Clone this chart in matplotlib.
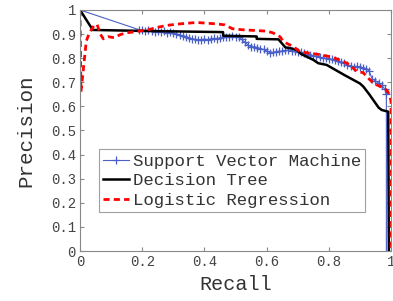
import matplotlib
matplotlib.use("Agg")
import matplotlib.pyplot as plt

# Support Vector Machine
svm_recall = [0.00, 0.19, 0.20, 0.21, 0.22, 0.23, 0.24, 0.25, 0.26, 0.27, 0.28, 0.29, 0.30,
              0.31, 0.32, 0.33, 0.34, 0.35, 0.36, 0.37, 0.38, 0.39, 0.40, 0.41, 0.42, 0.43,
              0.44, 0.45, 0.46, 0.47, 0.48, 0.49, 0.50, 0.51, 0.52, 0.53, 0.54, 0.55, 0.56,
              0.57, 0.58, 0.59, 0.60, 0.61, 0.62, 0.63, 0.64, 0.65, 0.66, 0.67, 0.68, 0.69,
              0.70, 0.71, 0.72, 0.73, 0.74, 0.75, 0.76, 0.77, 0.78, 0.79, 0.80, 0.81, 0.82,
              0.83, 0.84, 0.85, 0.86, 0.87, 0.88, 0.89, 0.90, 0.91, 0.92, 0.93, 0.94, 0.95,
              0.96, 0.97, 0.98, 0.985, 0.985]
svm_precision = [1.000, 0.918, 0.915, 0.912, 0.916, 0.913, 0.910, 0.914, 0.909, 0.912, 0.906,
                 0.909, 0.903, 0.900, 0.897, 0.893, 0.889, 0.884, 0.880, 0.878, 0.876, 0.877,
                 0.879, 0.877, 0.880, 0.882, 0.881, 0.884, 0.886, 0.888, 0.887, 0.890, 0.889,
                 0.886, 0.878, 0.866, 0.855, 0.846, 0.848, 0.844, 0.840, 0.836, 0.830, 0.823,
                 0.824, 0.827, 0.829, 0.828, 0.832, 0.834, 0.831, 0.828, 0.826, 0.824, 0.822,
                 0.819, 0.815, 0.809, 0.807, 0.804, 0.801, 0.799, 0.797, 0.795, 0.793, 0.789,
                 0.784, 0.778, 0.772, 0.768, 0.765, 0.766, 0.763, 0.760, 0.757, 0.745, 0.712,
                 0.706, 0.696, 0.687, 0.672, 0.650, 0.000]

# Decision Tree
dt_recall = [0.0, 0.041, 0.20, 0.46, 0.46, 0.568, 0.568, 0.638, 0.66, 0.68, 0.697, 0.71,
             0.729, 0.75, 0.766, 0.793, 0.85, 0.90, 0.911, 0.93, 0.96, 0.97, 0.991, 0.993]
dt_precision = [1.0, 0.917, 0.913, 0.908, 0.893, 0.890, 0.880, 0.878, 0.845, 0.840, 0.834,
                0.818, 0.806, 0.793, 0.779, 0.772, 0.730, 0.695, 0.682, 0.650, 0.595, 0.585,
                0.578, 0.0]

# Logistic Regression
lr_recall = [0.0, 0.003, 0.008, 0.02, 0.03, 0.045, 0.055, 0.065, 0.075, 0.09, 0.11, 0.13,
             0.15, 0.19, 0.22, 0.25, 0.28, 0.32, 0.375, 0.44, 0.466, 0.49, 0.52, 0.60, 0.62,
             0.643, 0.654, 0.686, 0.707, 0.74, 0.77, 0.804, 0.83, 0.858, 0.868, 0.89, 0.91,
             0.925, 0.94, 0.954, 0.98, 0.99, 0.997, 1.0, 1.0]
lr_precision = [1.0, 0.66, 0.72, 0.87, 0.905, 0.935, 0.94, 0.90, 0.88, 0.889, 0.885, 0.898,
                0.905, 0.912, 0.918, 0.928, 0.936, 0.942, 0.948, 0.942, 0.938, 0.922, 0.918,
                0.912, 0.905, 0.889, 0.868, 0.848, 0.827, 0.820, 0.815, 0.806, 0.795, 0.779,
                0.772, 0.744, 0.740, 0.720, 0.700, 0.689, 0.675, 0.660, 0.640, 0.620, 0.0]

x_ticks = [0, 0.2, 0.4, 0.6, 0.8, 1]
x_tick_labels = ["0", "0.2", "0.4", "0.6", "0.8", "1"]
y_ticks = [0, 0.1, 0.2, 0.3, 0.4, 0.5, 0.6, 0.7, 0.8, 0.9, 1]
y_tick_labels = ["0", "0.1", "0.2", "0.3", "0.4", "0.5", "0.6", "0.7", "0.8", "0.9", "1"]

plt.rcParams['font.family'] = ['Liberation Mono', 'DejaVu Sans Mono']

fig = plt.figure(figsize=(3.93, 3.01), dpi=100)
ax = fig.add_axes([0.2036, 0.166, 0.7914, 0.801])

ax.plot(svm_recall, svm_precision, color='#4a5fc8', linewidth=0.8, marker='+',
        markersize=6, markeredgewidth=0.9, markevery=slice(0, -1),
        label='Support Vector Machine')
ax.plot(dt_recall, dt_precision, color='black', linewidth=1.8, label='Decision Tree')
ax.plot(lr_recall, lr_precision, color='#ff0000', linewidth=2.0, linestyle=(0, (2.2, 1.5)),
        label='Logistic Regression')

ax.set_xlim(0, 1)
ax.set_ylim(0, 1)
ax.set_xticks(x_ticks)
ax.set_xticklabels(x_tick_labels)
ax.set_yticks(y_ticks)
ax.set_yticklabels(y_tick_labels)
ax.tick_params(direction='in', top=True, right=True, labelsize=10, length=3,
               color='#888888', labelcolor='#444444', pad=3)
for s in ax.spines.values():
    s.set_color('#888888')
    s.set_linewidth(0.8)

ax.set_xlabel('Recall', fontsize=14.5, color='#333333', labelpad=4)
ax.set_ylabel('Precision', fontsize=15, color='#333333', labelpad=11)

leg = ax.legend(loc='lower left', bbox_to_anchor=(0.061, 0.162), borderaxespad=0,
                fontsize=12.5, frameon=True, fancybox=False, handlelength=1.5,
                handletextpad=0.2, labelspacing=0.25, borderpad=0.25, numpoints=1)
leg.get_frame().set_edgecolor('#888888')
leg.get_frame().set_linewidth(0.8)
for t in leg.get_texts():
    t.set_color('#333333')

fig.savefig('out.png', dpi=100)
